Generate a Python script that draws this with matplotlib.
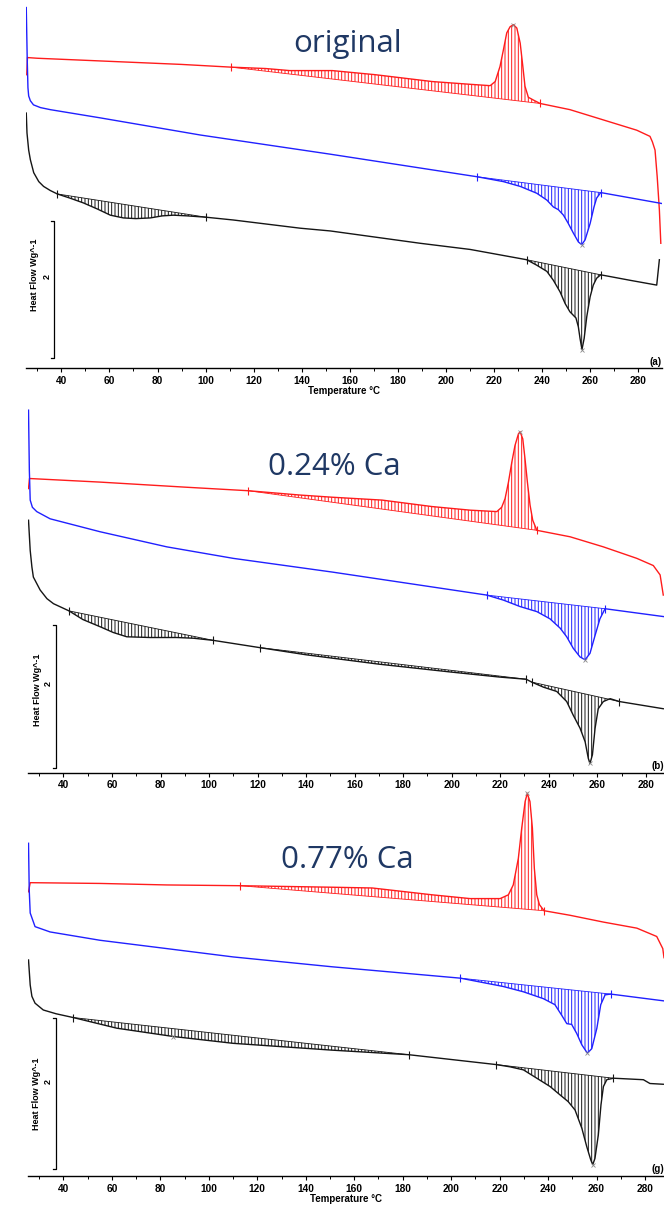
import numpy as np
import matplotlib.pyplot as plt

# DSC traces
# temperature in degC, heat flow in W/g (offset so that 0 sits on the temperature axis)

# (a) original
T_red_a = [25.6, 25.9, 30.0, 50.0, 70.0, 90.0, 110.7, 125.0, 135.0, 152.7, 170.6, 194.3, 210.0, 218.4,
           220.5, 222.5, 223.9, 225.3, 226.7, 228.1, 229.5, 230.9, 232.0, 232.9, 234.3, 236.4, 239.2,
           251.6, 265.5, 279.4, 284.9, 285.9, 287.0, 287.9, 288.8, 289.4]
hf_red_a = [4.28, 4.53, 4.52, 4.49, 4.46, 4.43, 4.39, 4.37, 4.34, 4.34, 4.28, 4.18, 4.14, 4.12,
            4.18, 4.40, 4.64, 4.89, 4.98, 5.01, 4.96, 4.74, 4.40, 4.11, 3.95, 3.91, 3.86,
            3.77, 3.62, 3.47, 3.38, 3.30, 3.18, 2.79, 2.31, 1.82]
T_blue_a = [25.4, 25.8, 26.1, 26.4, 27.1, 28.4, 31.3, 35.4, 56.2, 97.8, 151.9, 213.1, 223.9, 230.9,
            237.8, 242.0, 244.7, 246.8, 248.9, 250.9, 253.0, 255.1, 256.5, 257.9, 260.0, 261.6, 262.7,
            264.4, 289.9]
hf_blue_a = [5.26, 4.50, 4.09, 3.97, 3.90, 3.84, 3.80, 3.77, 3.65, 3.40, 3.12, 2.79, 2.72, 2.65,
             2.55, 2.45, 2.35, 2.31, 2.23, 2.11, 1.97, 1.84, 1.80, 1.87, 2.11, 2.35, 2.48,
             2.56, 2.40]
T_black_a = [25.4, 25.7, 26.4, 27.1, 28.5, 30.6, 32.6, 35.4, 38.3, 43.5, 49.1, 55.0, 60.4, 65.8, 71.0,
             77.0, 82.0, 86.6, 92.4, 100.3, 111.5, 139.4, 151.9, 189.3, 210.1, 233.6, 237.8, 242.0,
             244.7, 247.5, 249.6, 251.6, 254.1, 255.1, 255.8, 256.6, 257.5, 258.6, 260.0, 261.3,
             262.7, 264.4, 276.6, 287.7, 288.8]
hf_black_a = [3.72, 3.43, 3.18, 3.04, 2.85, 2.72, 2.65, 2.59, 2.54, 2.48, 2.41, 2.32, 2.23, 2.19, 2.18,
              2.19, 2.22, 2.23, 2.22, 2.20, 2.16, 2.04, 2.00, 1.82, 1.73, 1.58, 1.50, 1.41,
              1.28, 1.11, 0.94, 0.82, 0.73, 0.60, 0.43, 0.27, 0.43, 0.75, 1.04, 1.21,
              1.31, 1.36, 1.28, 1.21, 1.58]

# (b) 0.24% Ca
T_red_b = [25.6, 26.0, 55.1, 90.0, 116.2, 137.5, 150.7, 171.3, 191.9, 207.6, 218.6, 220.6, 222.0, 223.4,
           224.8, 226.1, 227.5, 228.2, 229.3, 230.2, 231.2, 232.3, 233.4, 235.1, 248.8, 262.5, 276.3,
           283.1, 285.9, 287.2]
hf_red_b = [3.95, 4.09, 4.04, 3.97, 3.92, 3.86, 3.83, 3.79, 3.70, 3.65, 3.63, 3.69, 3.81, 4.04,
            4.32, 4.55, 4.71, 4.74, 4.64, 4.37, 4.04, 3.72, 3.51, 3.37, 3.28, 3.14, 2.98,
            2.88, 2.75, 2.47]
T_blue_b = [25.6, 25.95, 26.3, 27.2, 29.0, 34.5, 55.1, 82.6, 110.0, 150.7, 214.4, 221.3, 228.2, 235.1,
            240.5, 244.7, 247.4, 250.1, 252.9, 255.0, 257.0, 259.1, 261.1, 263.2, 287.5]
hf_blue_b = [5.04, 4.20, 3.79, 3.69, 3.63, 3.53, 3.35, 3.14, 2.98, 2.79, 2.47, 2.40, 2.31, 2.24,
             2.14, 2.01, 1.89, 1.73, 1.61, 1.57, 1.66, 1.91, 2.14, 2.28, 2.17]
T_black_b = [25.6, 26.3, 27.0, 27.6, 30.4, 33.2, 35.9, 42.3, 48.0, 55.1, 60.5, 66.1, 75.7, 86.7, 93.6,
             101.8, 120.8, 140.0, 169.9, 199.7, 219.8, 230.7, 233.0, 237.8, 243.3, 247.4, 250.1, 252.9,
             255.0, 256.3, 257.0, 258.0, 259.1, 260.4, 262.5, 265.3, 269.1, 287.2]
hf_black_b = [3.51, 3.09, 2.86, 2.72, 2.54, 2.42, 2.35, 2.25, 2.13, 2.03, 1.95, 1.89, 1.88, 1.88, 1.87,
              1.84, 1.74, 1.64, 1.51, 1.40, 1.33, 1.30, 1.26, 1.19, 1.13, 0.99, 0.80, 0.62,
              0.43, 0.20, 0.13, 0.25, 0.62, 0.89, 0.99, 1.03, 0.99, 0.89]

# (g) 0.77% Ca
T_red_c = [25.6, 26.3, 55.1, 82.7, 112.9, 150.9, 167.4, 192.1, 207.8, 220.2, 223.6, 225.6, 227.7, 229.1,
           230.5, 231.4, 232.5, 233.5, 234.3, 235.3, 236.4, 238.3, 249.0, 262.8, 276.6, 284.8, 287.3,
           287.8]
hf_red_c = [3.75, 3.87, 3.86, 3.84, 3.83, 3.81, 3.80, 3.71, 3.66, 3.66, 3.71, 3.84, 4.19, 4.59,
            4.94, 5.05, 4.94, 4.59, 4.06, 3.71, 3.58, 3.50, 3.44, 3.35, 3.27, 3.16, 3.00,
            2.88]
T_blue_c = [25.6, 25.9, 26.3, 28.3, 34.5, 55.1, 82.7, 110.1, 150.9, 203.8, 221.5, 229.8, 238.0, 242.8,
            245.6, 247.7, 249.7, 251.8, 253.9, 256.2, 258.0, 260.1, 261.7, 263.5, 265.8, 287.8]
hf_blue_c = [4.39, 3.77, 3.47, 3.29, 3.22, 3.11, 3.00, 2.89, 2.76, 2.61, 2.50, 2.43, 2.34, 2.26,
             2.12, 2.01, 2.00, 1.88, 1.73, 1.62, 1.68, 1.95, 2.26, 2.39, 2.40, 2.31]
T_black_c = [25.6, 26.3, 27.0, 28.3, 31.7, 37.0, 44.1, 62.0, 85.4, 110.1, 150.9, 182.5, 218.5, 224.3,
             229.8, 235.3, 240.8, 244.9, 248.3, 251.1, 253.9, 255.9, 257.6, 258.4, 259.3, 260.7,
             261.8, 262.8, 264.2, 266.9, 279.3, 282.0, 287.5]
hf_black_c = [2.85, 2.52, 2.37, 2.28, 2.19, 2.14, 2.09, 1.95, 1.84, 1.75, 1.66, 1.60, 1.47, 1.44,
              1.40, 1.29, 1.18, 1.07, 0.98, 0.87, 0.63, 0.39, 0.21, 0.15, 0.23, 0.54,
              0.94, 1.18, 1.27, 1.29, 1.27, 1.22, 1.21]

# integration limits (start, end) and marked peak temperatures
limits_red = {'a': [(110.7, 239.2)], 'b': [(116.2, 235.1)], 'c': [(112.9, 238.3)]}
limits_blue = {'a': [(213.1, 264.4)], 'b': [(214.4, 263.2)], 'c': [(203.8, 265.8)]}
limits_black = {'a': [(38.3, 100.3), (233.6, 264.4)],
                'b': [(42.3, 101.8), (120.8, 230.7), (233.0, 269.1)],
                'c': [(44.1, 182.5), (218.5, 266.9)]}
peaks_red = {'a': [228.1], 'b': [228.2], 'c': [231.4]}
peaks_blue = {'a': [256.5], 'b': [255.0], 'c': [256.2]}
peaks_black = {'a': [256.6], 'b': [257.0], 'c': [85.4, 258.4]}

titles = ['original', '0.24% Ca', '0.77% Ca']
tags = ['(a)', '(b)', '(g)']
bar_length = 2  # W/g

RED = '#ff1c1c'
BLUE = '#2020ff'
BLACK = '#151515'
NAVY = '#1f3864'

plt.rcParams['font.family'] = ['Liberation Sans', 'DejaVu Sans']
plt.rcParams['hatch.linewidth'] = 0.7

fig = plt.figure(figsize=(6.64, 12.05), dpi=100)

# panel geometry: [left, bottom, width, height] in figure fractions, x and y limits
panels = [
    dict(key='a', rect=[0.0392, 0.6946, 0.9578, 0.3054], xlim=(25.3, 289.9), ylim=(0, 5.37),
         bar=(37.1, 0.15), ylab=(28.9, 1.36), two=(34.1, 1.33), xlabel=True, title=(0.524, 0.9635)),
    dict(key='b', rect=[0.0422, 0.3587, 0.9578, 0.3051], xlim=(25.4, 287.5), ylim=(0, 5.11),
         bar=(37.0, 0.06), ylab=(29.3, 1.15), two=(33.8, 1.24), xlabel=False, title=(0.503, 0.6125)),
    dict(key='c', rect=[0.0422, 0.0241, 0.9578, 0.3220], xlim=(25.4, 287.8), ylim=(0, 5.12),
         bar=(37.0, 0.09), ylab=(29.0, 1.09), two=(33.8, 1.24), xlabel=True, title=(0.5226, 0.2863)),
]

curves = {
    'a': [(T_red_a, hf_red_a, RED), (T_blue_a, hf_blue_a, BLUE), (T_black_a, hf_black_a, BLACK)],
    'b': [(T_red_b, hf_red_b, RED), (T_blue_b, hf_blue_b, BLUE), (T_black_b, hf_black_b, BLACK)],
    'c': [(T_red_c, hf_red_c, RED), (T_blue_c, hf_blue_c, BLUE), (T_black_c, hf_black_c, BLACK)],
}
limits = {RED: limits_red, BLUE: limits_blue, BLACK: limits_black}
peaks = {RED: peaks_red, BLUE: peaks_blue, BLACK: peaks_black}

for i, p in enumerate(panels):
    ax = fig.add_axes(p['rect'])
    k = p['key']
    for T, hf, col in curves[k]:
        T = np.asarray(T)
        hf = np.asarray(hf)
        ax.plot(T, hf, color=col, lw=1.0, zorder=3, solid_joinstyle='round')
        for t1, t2 in limits[col][k]:
            m = (T >= t1) & (T <= t2)
            y1, y2 = np.interp([t1, t2], T, hf)
            base = y1 + (y2 - y1) * (T[m] - t1) / (t2 - t1)
            ax.fill_between(T[m], hf[m], base, facecolor='none', edgecolor=col,
                            hatch='|||||', lw=0, zorder=2)
            ax.plot([t1, t2], [y1, y2], color=col, lw=0.6, zorder=2)
            ax.plot([t1, t2], [y1, y2], ls='none', marker='|', color=col, ms=6, mew=0.8, zorder=4)
        for t in peaks[col][k]:
            ax.plot(t, np.interp(t, T, hf), ls='none', marker='x', color='#8a8a8a',
                    ms=3, mew=0.6, zorder=4)

    # scale bar for the heat flow
    tb, yb = p['bar']
    ax.plot([tb - 1.5, tb, tb, tb - 1.5], [yb, yb, yb + bar_length, yb + bar_length],
            color='black', lw=0.9)
    ax.text(*p['ylab'], 'Heat Flow Wg^-1', rotation=90, ha='center', va='center',
            fontsize=6.5, fontweight='bold')
    ax.text(*p['two'], str(bar_length), rotation=90, ha='center', va='center',
            fontsize=6.5, fontweight='bold')

    ax.set_xlim(*p['xlim'])
    ax.set_ylim(*p['ylim'])
    ax.set_yticks([])
    ax.set_xticks(range(40, 281, 20))
    ax.set_xticks(range(30, 290, 10), minor=True)
    ax.tick_params(axis='x', which='major', length=3, width=0.8, direction='out', pad=2.5,
                   labelsize=7.3)
    ax.tick_params(axis='x', which='minor', length=2, width=0.7, direction='out')
    for lab in ax.get_xticklabels():
        lab.set_fontweight('bold')
    for s in ['left', 'top', 'right']:
        ax.spines[s].set_visible(False)
    ax.spines['bottom'].set_linewidth(1.0)
    ax.patch.set_alpha(0)
    if p['xlabel']:
        ax.set_xlabel('Temperature °C', fontsize=7, fontweight='bold', labelpad=0.5)
    ax.text(1.0, 0.004, tags[i], transform=ax.transAxes, ha='right', va='bottom',
            fontsize=7, fontweight='bold')

    fig.text(*p['title'], titles[i], ha='center', va='center', fontsize=22.5,
             color=NAVY, family=['Open Sans', 'DejaVu Sans'])

fig.savefig('out.png', dpi=100, facecolor='white')
plt.close(fig)
